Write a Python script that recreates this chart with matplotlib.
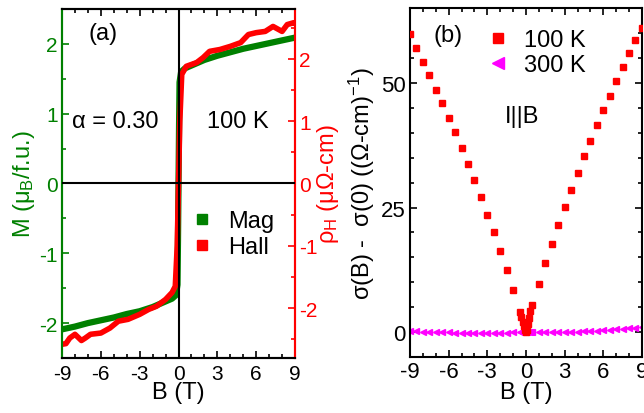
import matplotlib

matplotlib.use("Agg", force=True)
import matplotlib.pyplot as plt
from matplotlib.lines import Line2D
from matplotlib.ticker import MultipleLocator

plt.rcParams["font.family"] = ["Liberation Sans", "DejaVu Sans"]
plt.rcParams["mathtext.fontset"] = "custom"
plt.rcParams["mathtext.rm"] = "Liberation Sans"
plt.rcParams["mathtext.it"] = "Liberation Sans:italic"
plt.rcParams["axes.unicode_minus"] = False

GREEN = "#008000"
RED = "#ff0000"
MAGENTA = "#ff00ff"

# (a) magnetization, left axis (mu_B/f.u.)
b_mag = [-9, -8, -7, -6, -5, -4, -3, -2, -1, -0.5, -0.2, -0.08, -0.04, 0,
         0.04, 0.08, 0.2, 0.5, 1, 2, 3, 4, 5, 6, 7, 8, 9]
m_mag = [-2.09, -2.05, -2.00, -1.96, -1.92, -1.87, -1.83, -1.77, -1.69, -1.65,
         -1.60, -1.45, -0.8, 0.0, 0.8, 1.45, 1.60, 1.65, 1.69, 1.77, 1.83,
         1.88, 1.93, 1.97, 2.01, 2.05, 2.09]

# (a) Hall resistivity, right axis (uOhm-cm)
b_hall = [-9, -8.7, -8.4, -8.0, -7.5, -7.2, -6.8, -6.0, -5.3, -4.65, -3.9,
          -3.0, -2.3, -1.7, -1.0, -0.5, -0.25, -0.1, 0, 0.1, 0.25, 0.6, 1.4,
          1.9, 2.4, 3.2, 4.0, 4.8, 5.4, 6.0, 6.7, 7.3, 8.0, 8.4, 8.9, 9]
rho_hall = [-2.58, -2.57, -2.48, -2.42, -2.52, -2.48, -2.42, -2.40, -2.32,
            -2.21, -2.18, -2.10, -2.02, -1.97, -1.86, -1.75, -1.65, -1.0, 0.0,
            1.0, 1.75, 1.88, 1.94, 2.02, 2.12, 2.15, 2.20, 2.26, 2.39, 2.42,
            2.44, 2.52, 2.44, 2.55, 2.58, 2.56]

# (b) magnetoconductivity, 100 K
b_100 = [-9, -8.5, -8, -7.5, -7, -6.5, -6, -5.5, -5, -4.5, -4, -3.5, -3, -2.5,
         -2, -1.5, -1, -0.45, -0.35, -0.25, -0.15, -0.05, 0, 0.05, 0.15, 0.25,
         0.35, 0.45, 1, 1.5, 2, 2.5, 3, 3.5, 4, 4.5, 5, 5.5, 6, 6.5, 7, 7.5,
         8, 8.5, 9]
s_100 = [59.9, 57.0, 54.3, 51.6, 48.7, 46.0, 43.0, 40.1, 37.0, 33.8, 30.5,
         27.2, 23.5, 20.0, 16.3, 12.5, 8.4, 4.1, 3.0, 2.0, 1.2, 0.4, 0.0, 0.5,
         1.6, 2.9, 4.2, 5.5, 9.7, 13.8, 17.7, 21.5, 25.1, 28.6, 32.0, 35.3,
         38.3, 41.5, 44.6, 47.5, 50.5, 53.3, 56.0, 58.6, 61.1]

# (b) magnetoconductivity, 300 K
b_300 = [-9, -8.5, -8, -7.5, -7, -6.5, -6, -5.5, -5, -4.5, -4, -3.5, -3, -2.5,
         -2, -1.5, -1, -0.5, -0.4, -0.3, -0.2, -0.1, 0, 0.1, 0.2, 0.3, 0.4,
         0.5, 1, 1.5, 2, 2.5, 3, 3.5, 4, 4.5, 5, 5.5, 6, 6.5, 7, 7.5, 8, 8.5, 9]
s_300 = [0.2, 0.15, 0.1, 0.05, 0.0, -0.05, -0.08, -0.1, -0.12, -0.14, -0.15,
         -0.15, -0.15, -0.14, -0.12, -0.1, -0.08, -0.05, -0.04, -0.03, -0.02,
         -0.01, 0.0, -0.01, -0.02, -0.03, -0.03, -0.04, -0.05, -0.05, -0.04,
         -0.02, 0.0, 0.03, 0.07, 0.12, 0.18, 0.25, 0.33, 0.42, 0.52, 0.63,
         0.75, 0.87, 1.0]

x_ticks = [-9, -6, -3, 0, 3, 6, 9]

fig = plt.figure(figsize=(6.44, 4.14), dpi=100)

# ---- panel (a)
ax = fig.add_axes([0.0963, 0.1329, 0.3618, 0.843])
axr = ax.twinx()

ax.plot(b_mag, m_mag, color=GREEN, lw=4.5, solid_capstyle="butt", zorder=2)
axr.plot(b_hall, rho_hall, color=RED, lw=4.0, solid_capstyle="butt", zorder=2)
axr.axhline(0, color="black", lw=1.5, zorder=3)
axr.axvline(0, color="black", lw=1.5, zorder=3)

ax.set_xlim(-9, 9)
ax.set_ylim(-2.5, 2.5)
axr.set_ylim(-2.8, 2.8)
ax.set_xticks(x_ticks)
ax.xaxis.set_minor_locator(MultipleLocator(1))
ax.yaxis.set_major_locator(MultipleLocator(1))
ax.yaxis.set_minor_locator(MultipleLocator(0.5))
axr.yaxis.set_major_locator(MultipleLocator(1))
axr.yaxis.set_minor_locator(MultipleLocator(0.5))

ax.tick_params(axis="x", which="both", direction="in", top=True, labelsize=15, pad=4)
ax.tick_params(axis="y", which="both", direction="in", colors=GREEN, labelsize=15, pad=3)
axr.tick_params(axis="y", which="both", direction="in", colors=RED, labelsize=15, pad=3)
for a in (ax, axr):
    a.tick_params(which="major", length=5, width=1.2)
    a.tick_params(which="minor", length=3, width=1.2)
    for s in a.spines.values():
        s.set_linewidth(1.5)
axr.spines["left"].set_color(GREEN)
axr.spines["right"].set_color(RED)
ax.spines["left"].set_color(GREEN)
ax.spines["right"].set_color(RED)

ax.set_xlabel("B (T)", fontsize=17, labelpad=-1)
ax.set_ylabel("M (μ$_\\mathregular{B}$/f.u.)", fontsize=17, color=GREEN, labelpad=2)
axr.set_ylabel("ρ$_\\mathregular{H}$ (μΩ-cm)", fontsize=17, color=RED, labelpad=-2)

ax.text(0.115, 0.93, "(a)", transform=ax.transAxes, fontsize=17, va="center")
ax.text(0.23, 0.68, "α = 0.30", transform=ax.transAxes, fontsize=17, ha="center", va="center")
ax.text(0.755, 0.68, "100 K", transform=ax.transAxes, fontsize=17, ha="center", va="center")

handles_a = [
    Line2D([], [], ls="none", marker="s", ms=7, color=GREEN, label="Mag"),
    Line2D([], [], ls="none", marker="s", ms=7, color=RED, label="Hall"),
]
axr.legend(handles=handles_a, loc="center left", bbox_to_anchor=(0.52, 0.355),
           frameon=False, fontsize=17, handlelength=0.6, handletextpad=0.8,
           labelspacing=0.15, borderpad=0)

# ---- panel (b)
bx = fig.add_axes([0.6366, 0.1353, 0.3602, 0.842])
bx.plot(b_300, s_300, ls="none", marker="<", ms=5, color=MAGENTA, label="300 K", zorder=2)
bx.plot(b_100, s_100, ls="none", marker="s", ms=4, color=RED, label="100 K", zorder=3)

bx.set_xlim(-9, 9)
bx.set_ylim(-5, 65)
bx.set_xticks(x_ticks)
bx.xaxis.set_minor_locator(MultipleLocator(1))
bx.yaxis.set_major_locator(MultipleLocator(25))
bx.yaxis.set_minor_locator(MultipleLocator(5))
bx.tick_params(which="both", direction="in", top=True, right=True, labelsize=16, pad=3)
bx.tick_params(which="major", length=5, width=1.2)
bx.tick_params(which="minor", length=3, width=1.2)
for s in bx.spines.values():
    s.set_linewidth(1.5)

bx.set_xlabel("B (T)", fontsize=17, labelpad=-1)
bx.set_ylabel("σ(B) -  σ(0) ((Ω-cm)$^{-1}$)", fontsize=17, labelpad=3)

bx.text(0.10, 0.925, "(b)", transform=bx.transAxes, fontsize=17, va="center")
bx.text(0.485, 0.69, "I||B", transform=bx.transAxes, fontsize=17, ha="center", va="center")

handles_b = [
    Line2D([], [], ls="none", marker="s", ms=7, color=RED, label="100 K"),
    Line2D([], [], ls="none", marker="<", ms=8, color=MAGENTA, label="300 K"),
]
bx.legend(handles=handles_b, loc="upper left", bbox_to_anchor=(0.3, 0.975),
          frameon=False, fontsize=17, handlelength=0.6, handletextpad=0.8,
          labelspacing=0.15, borderpad=0)

fig.savefig("out.png", dpi=100)
